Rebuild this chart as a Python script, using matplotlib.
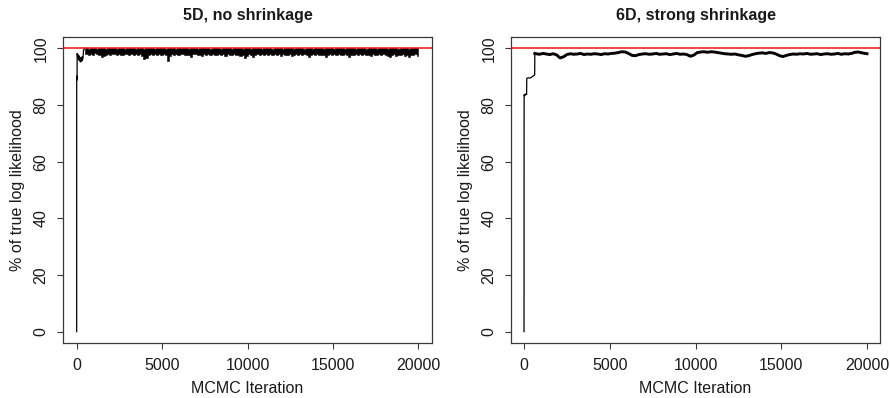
import numpy as np
import matplotlib
matplotlib.use("Agg")
import matplotlib.pyplot as plt

plt.rcParams['font.family'] = ['Liberation Sans', 'DejaVu Sans']

# ---- 5D, no shrinkage -------------------------------------------------------
# burn-in segment (iteration, % of true log likelihood)
burn5_iter = [0, 2, 8, 15, 22, 30, 40, 55, 75, 100, 130, 160, 190, 220,
              250, 280, 310, 340, 370, 400]
burn5_val = [0, 88.5, 90.2, 88.8, 89.6, 98.2, 97.6, 96.9, 97.8, 96.2, 97.4,
             95.6, 96.8, 95.2, 96.5, 95.4, 97.0, 95.8, 96.6, 99.2]

# after burn-in: per-block range of the trace, blocks of 125 iterations from 400
block5_start = 400
block5_size = 125
block5_low = [
    97.9, 98.1, 97.7, 98.0, 97.8, 98.2, 97.9, 97.6,
    97.0, 97.4, 97.8, 98.0, 97.7, 98.1, 97.9, 97.6,
    98.0, 97.8, 97.5, 98.1, 97.9, 97.7, 98.0, 97.8,
    97.9, 97.6, 98.0, 97.2, 96.3, 96.6, 97.5, 97.9,
    97.8, 98.0, 97.6, 97.9, 97.7, 98.1, 97.5, 95.4,
    97.3, 97.9, 97.7, 98.0, 97.6, 97.9, 98.1, 97.7,
    97.8, 97.5, 96.8, 97.9, 98.0, 97.6, 97.8, 97.3,
    97.9, 97.7, 98.0, 97.6, 97.9, 97.8, 97.5, 98.0,
    97.7, 97.9, 97.4, 98.0, 97.8, 97.6, 97.9, 97.5,
    97.6, 97.2, 97.8, 96.5, 97.3, 97.9, 97.6, 97.0,
    97.8, 98.0, 97.5, 97.9, 97.7, 98.1, 97.6, 97.9,
    97.7, 98.0, 97.6, 97.9, 97.4, 98.0, 97.8, 97.6,
    97.9, 97.3, 97.8, 98.0, 97.6, 97.9, 97.7, 98.0,
    97.8, 97.0, 97.7, 97.9, 97.6, 98.0, 97.5, 97.8,
    97.6, 96.9, 97.8, 98.0, 97.5, 97.9, 97.7, 97.9,
    97.8, 97.6, 97.9, 97.5, 97.0, 97.8, 97.6, 98.0,
    97.7, 97.9, 97.5, 98.0, 97.6, 97.8, 97.4, 97.9,
    97.8, 97.5, 97.9, 97.6, 98.0, 97.7, 97.4, 97.0,
    97.6, 97.9, 97.3, 97.8, 97.5, 97.9, 97.2, 97.7,
    97.1, 97.8, 97.5, 97.9, 97.4,
]
block5_high = [
    100.0, 100.1, 99.9, 100.0, 100.2, 100.0, 99.8, 100.0,
    100.1, 100.0, 99.9, 100.0, 100.2, 100.0, 100.0, 99.8,
    100.0, 100.1, 100.0, 99.9, 100.0, 100.2, 100.0, 100.0,
    99.9, 100.0, 100.1, 100.0, 99.8, 100.0, 100.0, 100.2,
    100.0, 99.9, 100.0, 100.1, 100.0, 100.0, 99.8, 100.0,
    100.2, 100.0, 100.0, 99.9, 100.0, 100.1, 100.0, 100.0,
    100.0, 99.8, 100.0, 100.2, 100.0, 99.9, 100.0, 100.0,
    100.1, 100.0, 100.0, 99.9, 100.0, 100.2, 100.0, 100.0,
    99.8, 100.0, 100.1, 100.0, 100.0, 99.9, 100.0, 100.2,
    100.0, 100.0, 99.9, 100.0, 100.1, 100.0, 99.8, 100.0,
    100.0, 100.2, 100.0, 99.9, 100.0, 100.0, 100.1, 100.0,
    99.9, 100.0, 100.0, 100.2, 100.0, 99.8, 100.0, 100.1,
    100.0, 100.0, 99.9, 100.0, 100.2, 100.0, 100.0, 99.9,
    100.1, 100.0, 100.0, 99.8, 100.0, 100.2, 100.0, 100.0,
    99.9, 100.0, 100.1, 100.0, 100.0, 99.9, 100.0, 100.2,
    100.0, 100.0, 99.8, 100.0, 100.1, 100.0, 100.0, 99.9,
    100.0, 100.2, 100.0, 100.0, 99.9, 100.0, 100.1, 100.0,
    100.0, 99.8, 100.0, 100.2, 100.0, 100.0, 99.9, 100.0,
    100.1, 100.0, 100.0, 99.9, 100.0, 100.2, 100.0, 100.0,
    99.9, 100.0, 100.1, 100.0, 100.0,
]

# ---- 6D, strong shrinkage ---------------------------------------------------
burn6_iter = [0, 3, 6, 10, 20, 40, 80, 120, 150, 160, 250, 350, 450, 550,
              620, 630]
burn6_val = [0, 70.4, 83.0, 83.6, 83.3, 83.8, 83.5, 84.0, 83.7, 89.4, 89.6,
             89.5, 89.9, 90.3, 90.6, 98.2]

# after burn-in: trace sampled every 200 iterations from 700, plus the last one
trace6_start = 700
trace6_step = 200
trace6_val = [
    98.1, 97.9, 98.2, 98.0, 97.8, 98.1, 97.7,
    96.6, 97.0, 97.8,
    98.1, 97.9, 98.0, 98.2, 97.8, 98.0, 97.9, 98.1, 98.0, 97.8, 98.1, 98.0, 98.2,
    98.3, 98.5, 98.8, 98.7, 98.2,
    97.5, 97.4, 97.8,
    98.0, 98.1, 97.9, 98.0, 98.2, 97.9, 98.0, 98.1, 97.8, 98.0, 98.2, 97.9, 98.0, 97.8,
    97.2, 97.6,
    98.5, 98.7, 98.8, 98.6, 98.8, 98.7, 98.5, 98.3,
    98.1, 98.0, 97.9, 98.0, 97.7, 97.5,
    97.2, 97.4, 97.8,
    98.1, 98.3, 98.4, 98.2, 98.5, 98.4, 98.0,
    97.4, 97.1, 97.5, 97.8,
    98.0, 97.9, 98.1, 98.0, 98.2, 97.9, 98.0, 98.1, 97.8, 98.0, 98.1, 97.9,
    98.0, 98.2, 97.9, 98.1, 98.0, 98.2,
    98.6, 98.7, 98.4, 98.2,
]
trace6_last_iter = 20000
trace6_last_val = 98.1

titles = ["5D, no shrinkage", "6D, strong shrinkage"]
x_label = "MCMC Iteration"
y_label = "% of true log likelihood"
true_level = 100
x_ticks = [0, 5000, 10000, 15000, 20000]
y_ticks = [0, 20, 40, 60, 80, 100]

W, H = 890, 398
fig = plt.figure(figsize=(W / 100, H / 100), dpi=100)

axes_px = [(63, 37, 432, 343), (511, 37, 880, 343)]
xlims = [(-800, 20800), (-760, 20760)]
axes = []
for (x0, y0, x1, y1) in axes_px:
    axes.append(fig.add_axes([x0 / W, 1 - y1 / H, (x1 - x0) / W, (y1 - y0) / H]))

edge = "#3a3a3a"
fs = 11.5

# left panel: burn-in line, then the dense trace as a filled min/max band
ax = axes[0]
ax.plot(burn5_iter, burn5_val, color="black", lw=0.9)
b5_x = block5_start + block5_size * (np.arange(len(block5_low)) + 0.5)
ax.fill_between(b5_x, block5_low, block5_high, step="mid", color="black",
                lw=0.4, edgecolor="black")
ax.plot([burn5_iter[-1], b5_x[0]], [burn5_val[-1], block5_high[0]],
        color="black", lw=0.9)

# right panel
ax = axes[1]
t6_x = list(trace6_start + trace6_step * np.arange(len(trace6_val))) + [trace6_last_iter]
t6_y = trace6_val + [trace6_last_val]
ax.plot(burn6_iter, burn6_val, color="black", lw=0.9)
ax.plot([burn6_iter[-1]] + t6_x, [burn6_val[-1]] + t6_y, color="black", lw=2.1,
        solid_joinstyle="round")

for i, ax in enumerate(axes):
    ax.axhline(true_level, color="#ee1111", lw=1.1, zorder=5)
    ax.set_xlim(*xlims[i])
    ax.set_ylim(-4, 104)
    ax.set_xticks(x_ticks)
    ax.set_yticks(y_ticks)
    ax.set_xticklabels([str(t) for t in x_ticks], fontsize=fs)
    ax.set_yticklabels([str(t) for t in y_ticks], fontsize=fs, rotation=90,
                       va="center")
    ax.tick_params(direction="out", length=4.5, width=0.8, color=edge,
                   labelcolor="#1a1a1a", pad=6)
    for s in ax.spines.values():
        s.set_color(edge)
        s.set_linewidth(0.9)
    ax.set_xlabel(x_label, fontsize=fs, color="#1a1a1a", va="center")
    ax.xaxis.set_label_coords(0.5, -0.150)
    ax.set_ylabel(y_label, fontsize=fs, color="#1a1a1a", va="center")
    ax.yaxis.set_label_coords(-0.122, 0.5)
    ax.text(0.5, 1.069, titles[i], transform=ax.transAxes, ha="center",
            va="center", fontsize=fs, fontweight="bold", color="#1a1a1a")

fig.savefig("out.png", dpi=100)
